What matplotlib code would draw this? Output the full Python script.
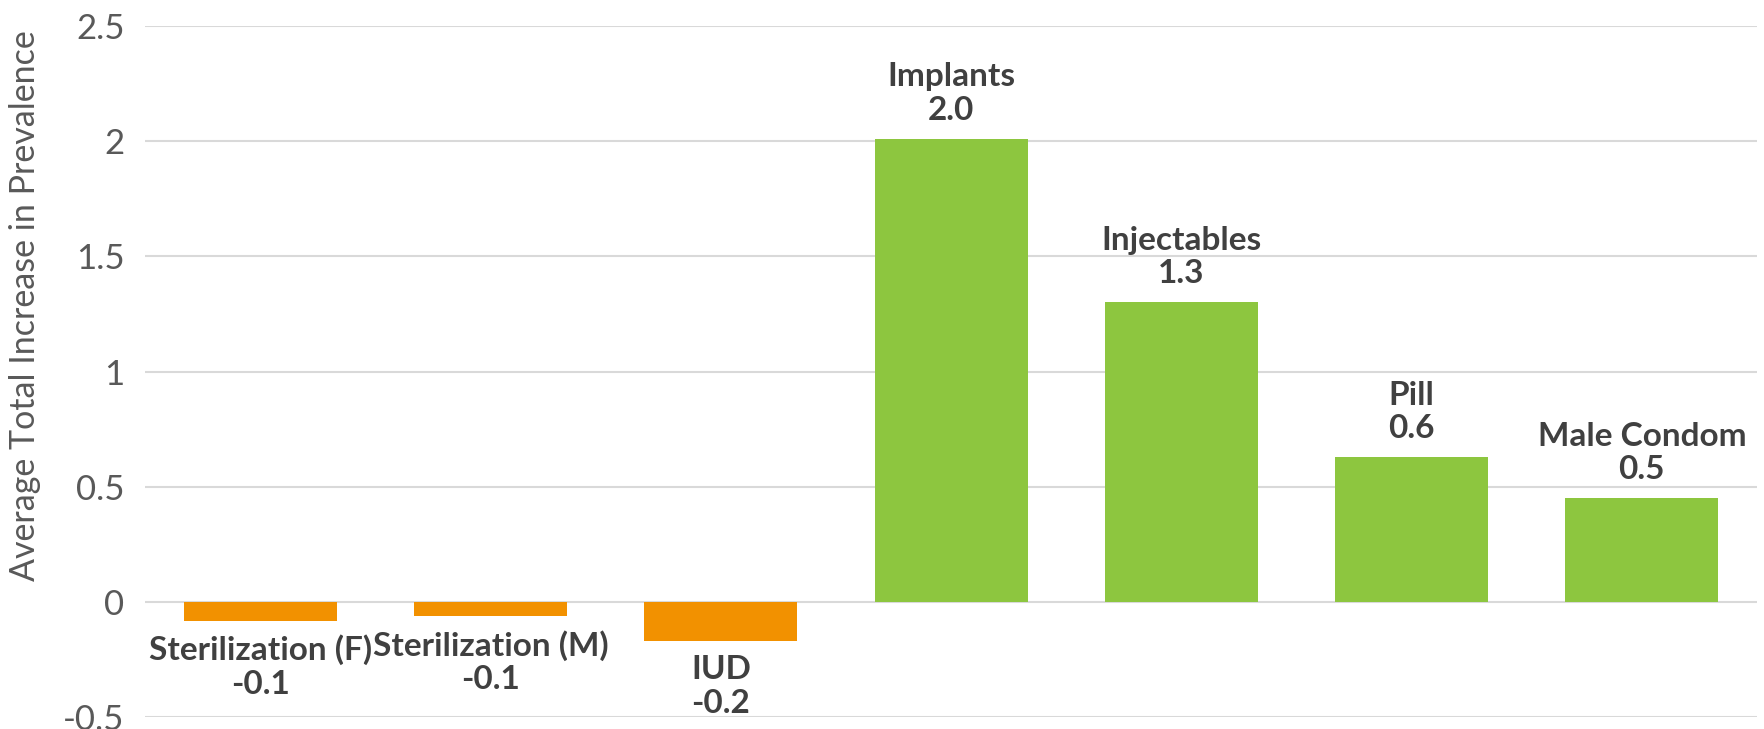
import numpy as np
import matplotlib
matplotlib.use('Agg')
import matplotlib.pyplot as plt

plt.rcParams['font.family'] = ['Lato', 'DejaVu Sans']

methods = ['Sterilization (F)', 'Sterilization (M)', 'IUD', 'Implants',
           'Injectables', 'Pill', 'Male Condom']
values = [-0.08, -0.06, -0.17, 2.01, 1.30, 0.63, 0.45]
yticks = [-0.5, 0, 0.5, 1, 1.5, 2, 2.5]
ytick_labels = ['-0.5', '0', '0.5', '1', '1.5', '2', '2.5']

orange = '#F29100'
green = '#8DC63F'
text_dark = '#404040'
text_grey = '#595959'

fig = plt.figure(figsize=(17.64, 7.29), dpi=100)
ax = fig.add_axes([0.0824, 0.0158, 0.9136, 0.949])

x = np.arange(len(methods))
colors = [orange if v < 0 else green for v in values]
ax.bar(x, values, width=0.665, color=colors, zorder=2)

ax.set_xlim(-0.5, len(methods) - 0.5)
ax.set_ylim(-0.5, 2.5)
ax.set_yticks(yticks)
ax.set_yticklabels(ytick_labels)
ax.set_xticks([])
ax.yaxis.grid(True, color='#d9d9d9', linewidth=1.5, zorder=0)
ax.set_axisbelow(True)
for s in ax.spines.values():
    s.set_visible(False)
ax.tick_params(axis='y', length=0, labelsize=25, labelcolor=text_grey, pad=15)
ax.set_ylabel('Average Total Increase in Prevalence', fontsize=24.5,
              color=text_grey, labelpad=6)
ax.yaxis.set_label_coords(-0.065, 0.596)

for xi, name, v in zip(x, methods, values):
    label = f'{name}\n{v:.1f}'
    if v >= 0:
        ax.annotate(label, (xi, v), xytext=(0, 14), textcoords='offset pixels',
                    ha='center', va='bottom', fontsize=24, fontweight='bold',
                    color=text_dark, linespacing=1.18)
    else:
        ax.annotate(label, (xi, v), xytext=(0, -14), textcoords='offset pixels',
                    ha='center', va='top', fontsize=24, fontweight='bold',
                    color=text_dark, linespacing=1.18)

fig.savefig('out.png', dpi=100)
